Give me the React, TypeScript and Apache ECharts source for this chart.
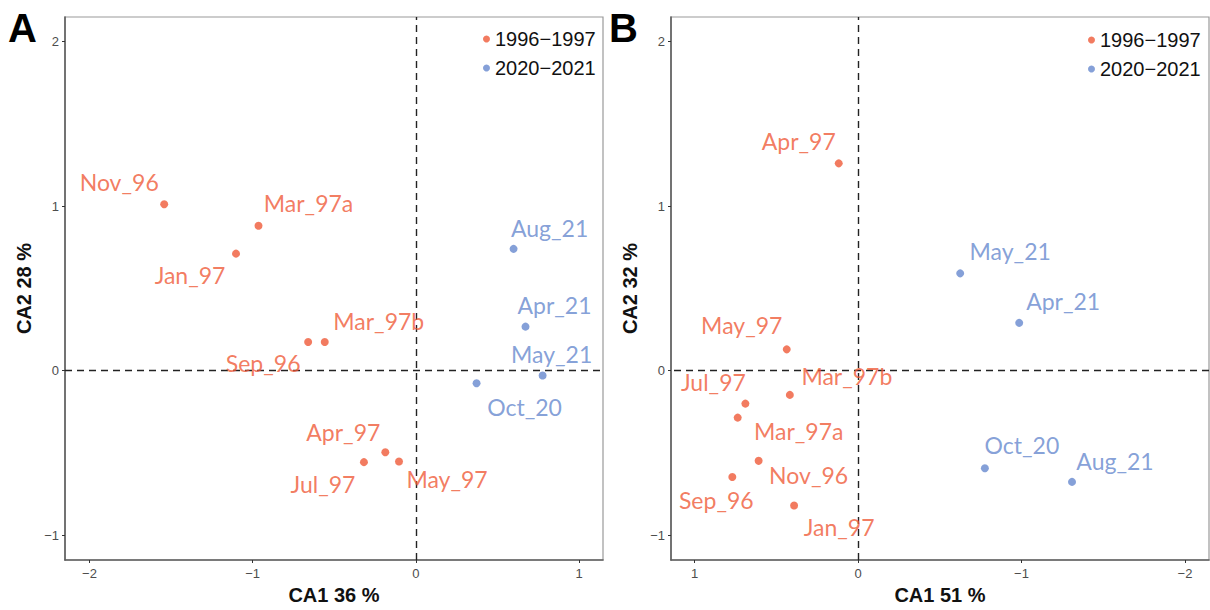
import React, { useEffect, useRef } from "react";
import * as echarts from "echarts";

const RED = "#EF5A38";
const BLUE = "#6688CE";
const GROUP_OLD = "1996\u22121997";
const GROUP_NEW = "2020\u22122021";

// Panel A (CA1 36 %, CA2 28 %)
const namesA96 = ["Sep_96", "Nov_96", "Jan_97", "Mar_97a", "Mar_97b", "Apr_97", "May_97", "Jul_97"];
const xA96 = [-0.66, -1.542, -1.102, -0.964, -0.558, -0.187, -0.103, -0.318];
const yA96 = [0.174, 1.011, 0.711, 0.881, 0.174, -0.497, -0.553, -0.557];
const namesA20 = ["Oct_20", "Apr_21", "May_21", "Aug_21"];
const xA20 = [0.372, 0.672, 0.777, 0.599];
const yA20 = [-0.077, 0.267, -0.03, 0.74];

// Panel B (CA1 51 %, CA2 32 %)
const namesB96 = ["Sep_96", "Nov_96", "Jan_97", "Mar_97a", "Mar_97b", "Apr_97", "May_97", "Jul_97"];
const xB96 = [0.769, 0.608, 0.391, 0.736, 0.417, 0.118, 0.436, 0.689];
const yB96 = [-0.647, -0.549, -0.821, -0.286, -0.148, 1.26, 0.129, -0.201];
const namesB20 = ["Oct_20", "Apr_21", "May_21", "Aug_21"];
const xB20 = [-0.776, -0.986, -0.625, -1.309];
const yB20 = [-0.594, 0.29, 0.591, -0.677];

const xTicksA = [-2, -1, 0, 1];
const xTicksB = [1, 0, -1, -2];
const yTicks = [-1, 0, 1, 2];

// label placement (pixel offsets from each point)
const labelOffsetA: Record<string, [number, number]> = {
  Nov_96: [-45, -22], Mar_97a: [50, -23], Jan_97: [-46, 21], Mar_97b: [54, -21],
  Sep_96: [-45, 21], Apr_97: [-42, -20], Jul_97: [-41, 22], May_97: [48, 18],
  Aug_21: [36, -21], Apr_21: [29, -22], May_21: [9, -21], Oct_20: [48, 24],
};
const labelOffsetB: Record<string, [number, number]> = {
  Apr_97: [-40, -22], May_21: [50, -22], Apr_21: [44, -22], May_97: [-45, -24],
  Mar_97b: [57, -19], Jul_97: [-32, -22], Mar_97a: [61, 13], Nov_96: [50, 14],
  Sep_96: [-16, 23], Jan_97: [45, 21], Oct_20: [37, -23], Aug_21: [43, -21],
};

const SANS = "Liberation Sans, Arial, sans-serif";
const minus = (v: number | string) => String(v).replace("-", "\u2212");

function points(names: string[], xs: number[], ys: number[], offsets: Record<string, [number, number]>) {
  return names.map((n, i) => ({
    name: n,
    value: [xs[i], ys[i]],
    label: { offset: offsets[n] || [0, 0] },
  }));
}

function makeX(gridIndex: number, min: number, max: number, ticks: number[], inverse: boolean, title: string) {
  return {
    type: "value",
    gridIndex,
    min,
    max,
    inverse,
    splitLine: { show: false },
    axisLine: { show: true, onZero: false, lineStyle: { color: "#5f5f5f", width: 1.6 } },
    axisTick: { show: true, customValues: ticks, length: 3, lineStyle: { color: "#333", width: 1 } },
    axisLabel: {
      customValues: ticks,
      formatter: minus,
      color: "#4d4d4d",
      fontSize: 13,
      fontFamily: SANS,
      margin: 7,
    },
    name: title,
    nameLocation: "middle",
    nameGap: 24,
    nameTextStyle: { fontWeight: "bold", fontSize: 20, color: "#111", fontFamily: SANS },
  };
}

function makeY(gridIndex: number, title: string) {
  return {
    type: "value",
    gridIndex,
    min: -1.152,
    max: 2.15,
    splitLine: { show: false },
    axisLine: { show: true, onZero: false, lineStyle: { color: "#5f5f5f", width: 1.6 } },
    axisTick: { show: true, customValues: yTicks, length: 3, lineStyle: { color: "#333", width: 1 } },
    axisLabel: {
      customValues: yTicks,
      formatter: minus,
      color: "#4d4d4d",
      fontSize: 13,
      fontFamily: SANS,
      margin: 6,
    },
    name: title,
    nameLocation: "middle",
    nameGap: 31,
    nameRotate: 90,
    nameTextStyle: { fontWeight: "bold", fontSize: 20, color: "#111", fontFamily: SANS },
  };
}

function scatter(name: string, color: string, axis: number, data: any[], withLines: boolean) {
  const s: any = {
    type: "scatter",
    name,
    xAxisIndex: axis,
    yAxisIndex: axis,
    symbolSize: 8,
    itemStyle: { color },
    data,
    label: {
      show: true,
      position: "inside",
      formatter: "{b}",
      color,
      fontSize: 23,
      fontFamily: "Lato, 'Open Sans', sans-serif",
      align: "center",
      verticalAlign: "middle",
    },
    z: 3,
  };
  if (withLines) {
    s.markLine = {
      silent: true,
      symbol: "none",
      label: { show: false },
      lineStyle: { type: [7, 5], color: "#222", width: 1.4 },
      data: [{ xAxis: 0 }, { yAxis: 0 }],
      z: 1,
    };
  }
  return s;
}

function legend(left: number, top: number) {
  return {
    left,
    top,
    orient: "vertical",
    padding: 0,
    icon: "circle",
    itemWidth: 7,
    itemHeight: 7,
    itemGap: 9,
    data: [GROUP_OLD, GROUP_NEW],
    textStyle: { fontSize: 20, lineHeight: 20, color: "#111", fontFamily: SANS },
  };
}

export default function App() {
  const ref = useRef<HTMLDivElement>(null);
  useEffect(() => {
    if (!ref.current) return;
    const chart = echarts.init(ref.current, undefined, { renderer: "svg" });
    chart.setOption({
      animation: false,
      backgroundColor: "#fff",
      grid: [
        { left: 65, top: 17, width: 538, height: 543, show: true, borderColor: "#9a9a9a", borderWidth: 1.2 },
        { left: 671, top: 17, width: 538, height: 543, show: true, borderColor: "#9a9a9a", borderWidth: 1.2 },
      ],
      xAxis: [
        makeX(0, -2.15, 1.147, xTicksA, false, "CA1 36 %"),
        makeX(1, -2.147, 1.144, xTicksB, true, "CA1 51 %"),
      ],
      yAxis: [makeY(0, "CA2 28 %"), makeY(1, "CA2 32 %")],
      legend: [legend(483, 29), legend(1088, 30)],
      series: [
        scatter(GROUP_OLD, RED, 0, points(namesA96, xA96, yA96, labelOffsetA), true),
        scatter(GROUP_NEW, BLUE, 0, points(namesA20, xA20, yA20, labelOffsetA), false),
        scatter(GROUP_OLD, RED, 1, points(namesB96, xB96, yB96, labelOffsetB), true),
        scatter(GROUP_NEW, BLUE, 1, points(namesB20, xB20, yB20, labelOffsetB), false),
      ],
      graphic: [
        { type: "text", left: 8, top: 8, style: { text: "A", fontSize: 40, fontWeight: "bold", fill: "#000", fontFamily: SANS } },
        { type: "text", left: 609, top: 8, style: { text: "B", fontSize: 40, fontWeight: "bold", fill: "#000", fontFamily: SANS } },
      ],
    });
    return () => chart.dispose();
  }, []);
  return (
    <div
      ref={ref}
      style={{ position: "fixed", left: 0, top: 0, width: 1210, height: 610, background: "#fff" }}
    />
  );
}
